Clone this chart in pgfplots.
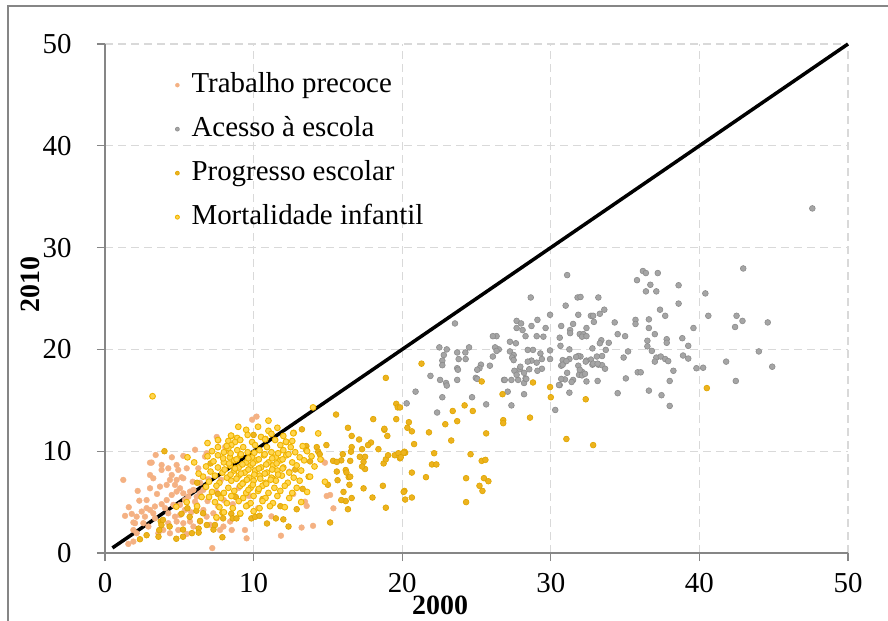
\documentclass[border=0pt]{standalone}
\usepackage{pgfplots}
\pgfplotsset{compat=1.18}
\usepackage{fontspec}
\setmainfont{Liberation Serif}
\definecolor{salmon}{HTML}{F4B183}
\definecolor{grayfill}{HTML}{A5A5A5}
\definecolor{grayedge}{HTML}{8C8C8C}
\definecolor{goldfill}{HTML}{EDB31E}
\definecolor{goldedge}{HTML}{DFA500}
\definecolor{yelfill}{HTML}{FFD54F}
\definecolor{yeledge}{HTML}{F0B400}
\definecolor{gridc}{HTML}{D9D9D9}
\definecolor{axc}{HTML}{868686}
\begin{document}
\begin{tikzpicture}
\useasboundingbox (0,0) rectangle (888bp,621bp);
\draw[color=axc, line width=1.2bp] (8bp,0) -- (8bp,615bp) -- (888bp,615bp);
\begin{axis}[
  at={(105bp,68bp)}, anchor=south west,
  width=743bp, height=509bp, scale only axis,
  xmin=0, xmax=50, ymin=0, ymax=50,
  xtick={0,10,...,50}, ytick={0,10,...,50},
  axis lines*=left,
  axis line style={axc, line width=1.2bp},
  tick align=outside, major tick length=8bp,
  tick style={axc, line width=1.2bp},
  grid=major,
  major grid style={gridc, dash pattern=on 8bp off 5bp, line width=1.3bp},
  /pgf/number format/assume math mode=true,
  ticklabel style={font=\fontsize{29}{29}\selectfont},
  yticklabel style={xshift=-22bp},
  xticklabel style={yshift=-9bp},
  xlabel={\textbf{2000}},
  ylabel={\textbf{2010}},
  xlabel style={at={(axis description cs:0.451,-0.102)}, anchor=center, font=\fontsize{28}{28}\selectfont},
  ylabel style={at={(axis description cs:-0.101,0.527)}, anchor=center, font=\fontsize{28}{28}\selectfont},
  legend style={at={(axis description cs:0.0915,0.949)}, anchor=north west, draw=none, fill=none,
    inner sep=0pt, row sep=14bp,
    font=\fontsize{29}{29}\selectfont,
    nodes={inner sep=2bp, text height=20bp, text depth=6bp}},
  legend cell align=left,
  legend image code/.code={\path (0bp,0bp) (16bp,0bp); \draw[#1,mark size=2bp] plot coordinates {(4bp,0bp)};},
  clip=false,
]
% Trabalho precoce
\addplot[only marks, mark=*, mark size=2.9bp, mark options={fill=salmon, draw=salmon}] coordinates {
(1.23,7.18)(1.35,3.65)(1.8,3.84)(1.91,3.0)(2.02,2.93)(2.31,5.14)(2.8,5.2)(3.03,4.23)(3.25,3.9)(3.36,3.41)
(2.69,3.57)(2.58,2.93)(2.92,2.6)(2.13,1.94)(1.91,2.26)(1.57,0.89)(3.03,7.66)(3.25,7.34)(3.14,8.88)(3.81,8.65)
(3.81,8.16)(4.26,8.32)(4.49,7.66)(4.93,8.16)(5.16,7.44)(4.37,7.18)(4.82,7.18)(5.27,7.34)(3.7,6.52)(4.15,6.69)
(4.71,6.69)(5.05,6.36)(4.49,5.7)(4.82,6.03)(5.27,5.86)(5.61,5.53)(5.72,6.03)(4.15,5.2)(3.81,4.8)(4.04,4.41)
(4.6,4.73)(5.05,4.73)(5.38,5.2)(6.06,5.04)(2.8,4.41)(3.36,4.57)(4.26,3.9)(4.71,3.57)(5.05,3.74)(5.38,4.23)
(4.26,2.93)(4.82,3.09)(5.27,2.93)(5.72,3.09)(4.37,1.94)(4.93,2.26)(5.5,1.87)(5.95,2.6)(6.39,3.09)(6.84,3.57)
(7.29,3.9)(6.62,4.23)(6.17,4.73)(5.95,6.2)(6.17,5.53)(6.39,5.86)(6.62,6.2)(5.27,9.54)(5.5,8.32)(6.28,8.32)
(6.96,7.25)(6.06,10.14)(6.73,9.47)(6.84,9.8)(7.52,11.4)(7.63,11.06)(8.19,10.08)(8.08,10.41)(4.82,8.65)(7.07,2.77)
(7.22,0.48)(7.52,3.41)(7.97,2.6)(7.74,2.26)(8.42,3.09)(8.53,2.26)(9.42,2.26)(9.53,1.44)(10.2,13.4)(3.03,6.36)
(2.47,4.07)(2.13,3.57)(3.59,1.94)(3.92,2.26)(1.91,1.12)(14.58,9.13)(14.8,8.87)(15.15,5.7)(14.92,5.6)(15.37,4.39)
(13.46,5.04)(13.57,4.62)(12.4,7.99)(12.67,5.8)(13.23,2.5)(14.0,2.67)(11.84,1.7)(3.41,9.63)(3.03,8.87)(7.5,6.0)
(8.0,5.2)(8.6,4.8)(7.8,7.2)(9.0,6.4)(9.7,5.6)(10.3,4.4)(11.2,3.6)(9.9,13.1)(5.9,7.0)(6.4,6.9)
(3.5,5.8)(2.2,6.1)(1.6,4.5)(4.5,9.4)(5.8,4.0)(6.9,5.1)(7.6,4.6)
};
\addlegendentry{Trabalho precoce}
\addplot[black, line width=3.5bp, forget plot] coordinates {(0.5,0.5) (50,50)};
% Acesso a escola
\addplot[only marks, mark=*, mark size=2.9bp, mark options={fill=grayfill, draw=grayedge, line width=0.6bp}] coordinates {
(31.1,27.3)(36.2,27.7)(36.4,27.5)(37.2,27.5)(35.8,26.8)(36.7,26.35)(38.6,26.3)(36.4,25.7)(37.1,25.7)(40.4,25.5)
(38.6,24.5)(28.65,25.1)(31.8,25.1)(32.0,25.15)(33.2,25.1)(31.0,24.3)(33.6,23.9)(33.3,23.5)(37.35,23.9)(42.95,27.95)
(47.6,33.85)(23.55,22.55)(31.85,23.4)(32.7,23.3)(32.85,23.3)(29.95,23.4)(27.7,22.8)(28.0,22.55)(29.1,22.9)(28.7,22.3)
(27.7,22.1)(28.1,21.9)(29.65,22.1)(30.7,22.3)(31.5,22.5)(32.4,22.1)(32.9,22.7)(34.3,22.65)(35.7,22.9)(35.7,22.5)
(36.6,22.95)(36.6,22.1)(37.7,23.3)(39.6,22.1)(40.6,23.3)(42.5,23.3)(42.9,22.8)(42.4,22.2)(44.6,22.65)(31.3,21.9)
(31.3,21.6)(31.95,21.5)(32.2,21.5)(29.5,21.25)(29.05,21.3)(28.3,21.3)(27.65,20.6)(27.25,20.75)(26.35,21.3)(26.1,21.3)
(30.6,21.15)(30.65,20.35)(31.25,20.0)(32.1,21.25)(32.4,21.3)(33.4,20.9)(33.9,20.65)(33.3,20.6)(34.5,21.5)(35.0,21.3)
(36.5,20.85)(36.5,20.3)(37.0,21.5)(37.8,21.0)(37.8,20.65)(38.85,21.1)(39.25,20.35)(32.8,20.1)(26.5,20.0)(26.25,20.2)
(24.5,20.2)(23.0,20.0)(22.5,20.2)(29.95,19.9)(36.8,19.85)(35.2,19.8)(33.7,19.95)(33.45,19.35)(33.1,19.3)(32.7,19.0)
(32.0,19.3)(31.85,19.35)(31.7,19.25)(32.4,18.9)(32.8,18.5)(33.2,18.5)(33.45,18.45)(33.65,18.1)(31.25,19.05)(30.8,18.95)
(30.7,18.4)(29.95,19.05)(29.3,19.6)(29.4,19.05)(29.05,18.7)(28.7,18.9)(28.45,18.8)(28.8,19.95)(28.45,19.95)(27.25,19.8)
(27.5,19.45)(27.4,19.2)(27.5,18.95)(26.35,19.85)(26.1,19.3)(25.9,18.4)(25.3,18.5)(25.2,18.15)(25.05,18.0)(24.25,19.7)
(24.27,19.05)(23.7,19.7)(23.8,19.05)(23.7,18.15)(23.75,18.0)(22.8,19.45)(22.7,18.9)(22.7,18.45)(38.9,19.4)(39.25,19.1)
(37.1,19.2)(37.4,19.3)(37.7,19.05)(37.9,18.85)(34.9,19.2)(39.8,18.15)(40.25,18.2)(41.8,18.8)(44.0,19.8)(44.9,18.3)
(38.25,17.9)(37.0,18.8)(27.9,18.05)(28.55,18.05)(27.95,18.3)(29.4,18.1)(30.8,18.5)(31.05,18.85)(31.85,18.4)(32.35,18.8)
(32.85,18.6)(33.15,18.6)(35.85,17.75)(36.05,17.75)(32.1,17.8)(24.95,17.2)(23.7,17.0)(22.55,17.0)(22.95,16.7)(23.0,16.45)
(21.9,17.4)(22.7,15.3)(20.9,15.85)(20.3,14.7)(22.35,13.8)(24.7,15.3)(25.65,14.6)(26.85,17.0)(27.35,17.0)(27.8,17.0)
(28.2,16.7)(28.3,17.15)(27.35,14.5)(28.2,15.6)(27.1,15.85)(30.3,14.05)(30.6,16.5)(31.25,15.75)(31.5,17.0)(31.9,17.5)
(32.1,17.45)(32.3,17.6)(31.95,18.0)(30.95,17.05)(33.15,16.9)(35.05,17.15)(34.5,15.7)(36.6,15.95)(37.45,15.5)(38.0,16.9)
(38.0,14.45)(42.45,16.9)(27.55,17.9)(27.7,17.5)(28.2,17.7)(29.1,17.9)(31.4,16.8)(30.55,16.5)(30.7,17.1)(31.1,17.7)
(32.4,16.85)(25.05,17.1)(26.9,17.0)(28.35,17.1)
};
\addlegendentry{Acesso à escola}
% Progresso escolar
\addplot[only marks, mark=*, mark size=2.9bp, mark options={fill=goldfill, draw=goldedge, line width=0.6bp}] coordinates {
(4.0,10.0)(2.8,1.75)(2.35,1.35)(3.65,2.25)(3.6,1.6)(4.8,1.4)(5.25,2.3)(3.75,3.1)(3.9,3.25)(5.85,1.95)
(6.3,2.4)(6.3,2.0)(6.85,2.75)(7.3,2.3)(7.4,2.75)(7.9,1.55)(5.7,3.55)(5.15,3.85)(5.55,4.4)(6.15,4.15)
(6.6,3.9)(6.4,3.15)(5.25,1.6)(4.35,2.6)(3.8,2.75)(7.9,3.95)(7.95,3.4)(8.5,3.85)(8.6,3.4)(8.85,3.4)
(9.1,3.85)(9.85,3.4)(10.1,3.55)(10.4,3.65)(11.5,3.4)(12.35,2.6)(15.15,3.0)
(15.55,13.6)(18.05,13.15)(19.6,14.65)(19.7,14.3)(19.6,13.15)(13.25,12.15)(16.35,12.3)(16.6,11.5)(18.8,12.1)(19.0,11.5)
(17.1,11.15)(17.9,10.85)(17.7,10.6)(18.4,10.2)(17.3,10.2)(16.6,10.4)(14.9,10.6)(13.55,10.5)(13.55,10.1)(14.25,10.4)
(14.35,9.95)(14.45,9.7)(16.0,9.7)(15.9,9.1)(16.5,9.05)(16.55,9.95)(17.15,9.45)(17.5,9.45)(17.4,8.95)(17.5,8.25)
(17.3,8.5)(15.35,9.05)(15.6,8.95)(15.6,8.0)(15.65,7.15)(16.2,8.15)(16.25,7.9)(16.4,7.45)(16.5,7.5)(15.0,6.7)
(16.45,6.7)(16.05,6.0)(16.2,5.1)(16.6,5.4)(16.35,4.3)(15.9,5.2)(17.4,6.35)(18.0,5.45)(18.7,6.6)(18.9,4.45)
(18.75,8.8)(18.9,9.2)(19.05,9.6)(19.5,9.6)(19.75,9.8)(19.85,9.3)(20.2,9.85)(20.15,9.95)(20.15,6.1)(20.2,5.25)
(21.3,18.6)(18.9,17.2)(25.35,16.85)(28.8,16.75)(29.95,16.3)(30.0,15.3)(26.75,15.6)(32.35,15.1)(40.5,16.2)(24.2,14.5)
(23.4,13.95)(24.75,13.95)(23.7,12.95)(22.9,12.65)(21.8,11.85)(20.45,12.85)(20.35,12.3)(20.65,11.95)(20.8,10.7)(19.85,14.3)
(23.3,11.05)(26.8,13.05)(26.8,12.75)(25.65,11.75)(28.6,13.3)(31.05,11.2)(32.85,10.6)(20.1,9.85)(19.9,9.4)(22.15,9.8)
(22.0,8.7)(22.3,8.7)(24.6,9.7)(25.35,9.05)(25.6,9.15)(20.65,7.9)(21.6,7.45)(24.3,7.35)(25.5,7.35)(25.8,7.05)
(25.2,6.6)(25.4,6.1)(20.1,6.0)(20.65,5.45)(24.3,5.0)(18.8,12.2)
(10.6,5.3)(11.8,4.6)(12.9,4.3)(13.3,6.3)(12.0,3.3)(10.9,2.9)(9.6,4.7)(8.8,5.5)(7.6,5.8)(11.3,7.3)
(12.8,8.2)(13.7,7.5)(13.8,9.0)(10.0,11.6)(6.2,6.9)(7.1,8.8)
};
\addlegendentry{Progresso escolar}
% Mortalidade infantil
\addplot[only marks, mark=*, mark size=2.9bp, mark options={fill=yelfill, draw=yeledge, line width=0.9bp}] coordinates {
(9.5,12.1)(10.3,12.4)(11.0,12.0)(11.6,12.3)(8.97,12.4)
(8.5,11.5)(8.9,11.3)(9.6,11.6)(10.5,11.4)(11.2,11.7)(12.0,11.5)(12.7,11.8)
(8.3,11.0)(8.75,10.9)(9.1,11.1)(9.9,10.9)(10.8,11.2)(11.45,11.1)(12.2,10.9)(12.6,11.0)
(7.6,10.4)(8.2,10.5)(8.5,10.6)(9.3,10.4)(10.1,10.6)(10.9,10.4)(11.8,10.6)(12.5,10.4)(13.3,10.5)
(7.2,10.0)(8.0,9.9)(8.3,10.3)(8.9,10.1)(9.6,9.9)(10.4,10.1)(11.2,9.9)(12.0,10.1)(12.8,9.9)(13.6,10.0)
(6.9,9.5)(7.6,9.6)(8.4,9.4)(9.1,9.6)(9.9,9.4)(10.7,9.6)(11.5,9.4)(12.2,9.6)(13.1,9.4)(13.9,9.5)
(7.3,9.0)(8.0,8.9)(8.7,9.1)(9.5,8.9)(10.2,9.1)(11.0,8.9)(11.8,9.1)(12.6,8.9)(13.4,9.1)
(6.8,8.5)(7.6,8.4)(8.4,8.6)(9.0,8.4)(9.8,8.6)(10.5,8.4)(11.3,8.6)(12.0,8.4)(12.9,8.6)(14.1,8.5)
(7.1,8.0)(7.9,7.9)(8.7,8.1)(9.4,7.9)(10.1,8.1)(10.9,7.9)(11.6,8.1)(12.4,7.9)(13.2,8.1)
(6.6,7.5)(7.4,7.6)(8.2,7.4)(9.0,7.6)(9.7,7.4)(10.4,7.6)(11.2,7.4)(11.9,7.6)(12.7,7.4)(13.8,7.5)
(7.0,7.0)(7.7,6.9)(8.5,7.1)(9.3,6.9)(10.0,7.1)(10.8,6.9)(11.5,7.1)(12.3,6.9)(13.1,7.1)
(6.8,6.5)(7.5,6.6)(8.3,6.4)(9.1,6.6)(9.8,6.4)(10.6,6.6)(11.4,6.4)(12.1,6.6)(12.9,6.4)
(7.2,6.0)(8.0,5.9)(8.7,6.1)(9.5,5.9)(10.3,6.1)(11.0,5.9)(11.8,6.1)(12.6,5.9)
(7.0,5.5)(7.8,5.4)(8.5,5.6)(9.3,5.4)(10.0,5.6)(10.8,5.4)(11.6,5.6)(12.4,5.4)
(7.4,5.0)(8.2,4.9)(9.0,5.1)(9.8,4.9)(10.6,5.1)(11.3,4.9)
(7.7,4.5)(8.6,4.4)(9.5,4.6)(10.4,4.4)(11.1,4.6)
(8.0,4.0)(9.1,3.9)(10.0,4.1)
(8.45,9.8)(9.15,9.7)(10.05,9.85)(10.75,9.7)(11.65,9.8)(12.35,9.7)(7.95,9.3)(8.85,9.2)(9.65,9.3)(10.35,9.2)
(11.25,9.3)(11.95,9.2)(8.35,8.8)(9.25,8.7)(9.95,8.8)(10.85,8.7)(11.55,8.8)(8.05,8.2)(8.75,8.3)(9.65,8.2)
(10.35,8.3)(11.25,8.2)(11.95,8.3)(8.45,7.7)(9.15,7.8)(10.05,7.7)(10.75,7.8)(11.65,7.7)(8.85,7.3)(9.55,7.2)
(10.45,7.3)(11.15,7.2)(9.25,6.8)(9.95,6.7)(10.85,6.8)(9.65,6.2)(10.35,6.3)
(3.2,15.4)(5.55,9.4)(4.8,4.55)(5.5,5.0)(6.2,4.6)(14.0,14.3)(14.35,11.75)(11.0,13.0)(8.48,11.53)(8.19,10.51)
(10.77,11.17)(12.18,10.93)(12.67,11.76)(6.3,7.8)(6.0,8.9)(14.5,9.2)(14.8,7.0)(13.6,6.0)(13.2,5.0)(12.1,4.5)
(7.5,3.5)(6.5,5.5)(6.9,10.8)(7.6,11.1)
};
\addlegendentry{Mortalidade infantil}
\end{axis}
\end{tikzpicture}
\end{document}
